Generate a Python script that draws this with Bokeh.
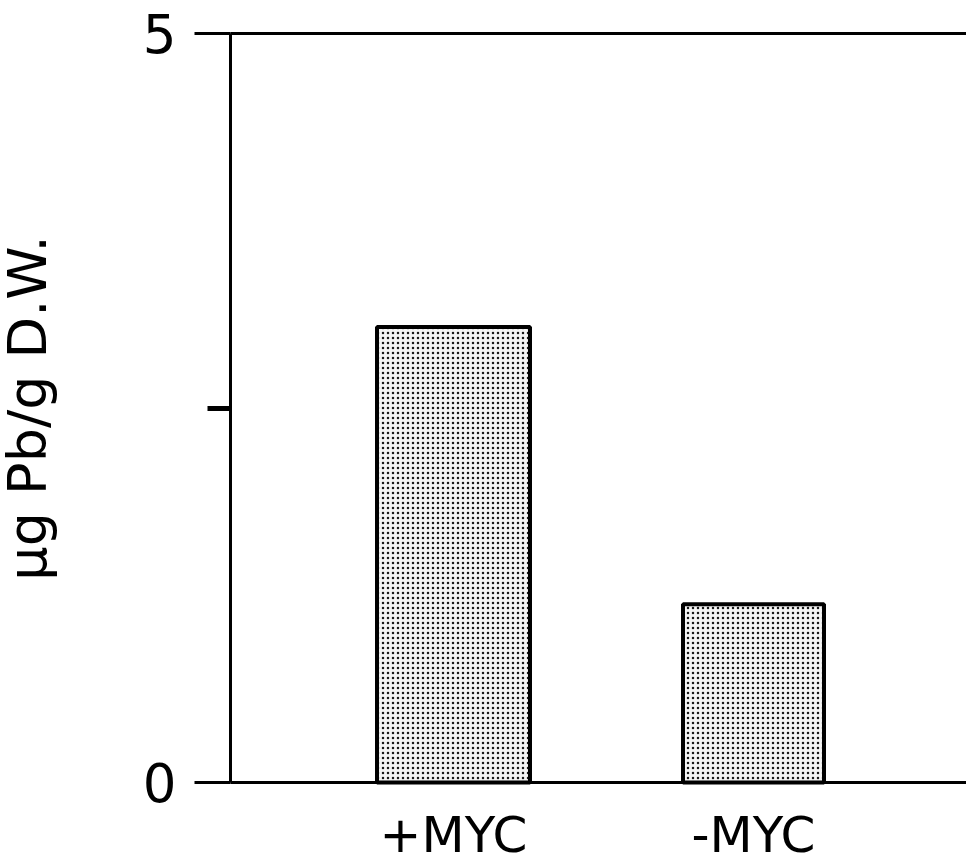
from bokeh.plotting import figure
from bokeh.models import FixedTicker, ColumnDataSource, Range1d, Label, LinearAxis
from bokeh.embed import file_html
from bokeh.resources import INLINE
import math

categories = ["+MYC", "-MYC"]
values = [3.04, 1.19]
bar_widths = [0.51, 0.47]
y_ticks = [0, 5]
y_minor_ticks = [2.5]
y_tick_labels = {0: "0", 5: "5"}
y_label = "µg Pb/g D.W."

xs = [i + 1 for i in range(len(categories))]
src = ColumnDataSource(dict(x=xs, top=values, w=bar_widths))

FONT = "DejaVu Sans"
Y0, Y1 = y_ticks[0], y_ticks[-1]
X_AXIS_POS = 0.2567
X_END = 2.71

# The frame fills the whole canvas; axes are drawn at fixed locations inside it.
p = figure(width=966, height=860, output_backend="svg", toolbar_location=None,
           x_range=Range1d(-0.51, X_END), y_range=Range1d(-0.5207, 5.2203),
           min_border=0, x_axis_type=None, y_axis_type=None)
p.outline_line_color = None
p.grid.visible = False
p.background_fill_color = "white"
p.border_fill_color = "white"

p.vbar(x="x", top="top", width="w", bottom=0, source=src,
       fill_color="#f4f4f4", hatch_pattern="dot", hatch_color="black",
       hatch_scale=5, hatch_weight=1.3, hatch_alpha=0.9,
       line_color="black", line_width=4)

# y axis
ya = LinearAxis(fixed_location=X_AXIS_POS, bounds=(Y0, Y1),
                ticker=FixedTicker(ticks=y_ticks, minor_ticks=y_minor_ticks))
ya.major_label_overrides = y_tick_labels
ya.axis_line_width = 3
ya.axis_line_color = "black"
ya.major_tick_in = 0
ya.major_tick_out = 36
ya.major_tick_line_width = 3
ya.minor_tick_in = 0
ya.minor_tick_out = 23
ya.minor_tick_line_width = 5
ya.major_label_text_font = FONT
ya.major_label_text_font_size = "53px"
ya.major_label_text_color = "black"
ya.major_label_standoff = 18
ya.major_label_orientation = 0
p.add_layout(ya, "left")

# bottom axis line (value 0) with category labels
xa = LinearAxis(fixed_location=Y0, bounds=(X_AXIS_POS, X_END), ticker=FixedTicker(ticks=xs))
xa.major_label_overrides = {x: c for x, c in zip(xs, categories)}
xa.axis_line_width = 3
xa.axis_line_color = "black"
xa.major_tick_line_color = None
xa.minor_tick_line_color = None
xa.major_label_text_font = FONT
xa.major_label_text_font_size = "50px"
xa.major_label_text_color = "black"
xa.major_label_standoff = 18
p.add_layout(xa, "below")

# top line (value 5)
ta = LinearAxis(fixed_location=Y1, bounds=(X_AXIS_POS, X_END), ticker=FixedTicker(ticks=[]))
ta.axis_line_width = 3
ta.axis_line_color = "black"
ta.major_tick_line_color = None
ta.minor_tick_line_color = None
ta.major_label_text_font_size = "0px"
p.add_layout(ta, "above")

p.add_layout(Label(x=X_AXIS_POS, y=(Y0 + Y1) / 2, x_offset=-203, y_offset=0, text=y_label,
                   angle=math.pi / 2, text_align="center", text_baseline="alphabetic",
                   text_font=FONT, text_font_size="54px", text_color="black"))

open("out.html", "w").write(file_html(p, INLINE))
